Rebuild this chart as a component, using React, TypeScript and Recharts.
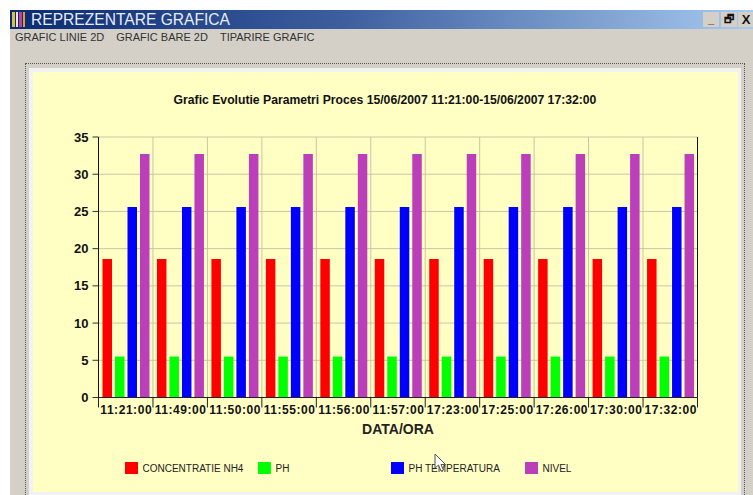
import React from "react";
import { BarChart, Bar, XAxis, YAxis, CartesianGrid, Legend } from "recharts";

const categories = ["11:21:00","11:49:00","11:50:00","11:55:00","11:56:00","11:57:00","17:23:00","17:25:00","17:26:00","17:30:00","17:32:00"];
const concentratieNH4 = [18.6,18.6,18.6,18.6,18.6,18.6,18.6,18.6,18.6,18.6,18.6];
const ph = [5.5,5.5,5.5,5.5,5.5,5.5,5.5,5.5,5.5,5.5,5.5];
const phTemperatura = [25.6,25.6,25.6,25.6,25.6,25.6,25.6,25.6,25.6,25.6,25.6];
const nivel = [32.7,32.7,32.7,32.7,32.7,32.7,32.7,32.7,32.7,32.7,32.7];
const yTicks = [0,5,10,15,20,25,30,35];
const menuItems = ["GRAFIC LINIE 2D","GRAFIC BARE 2D","TIPARIRE GRAFIC"];

const rows = categories.map((time, i) => ({
  time,
  nh4: concentratieNH4[i],
  ph: ph[i],
  temp: phTemperatura[i],
  nivel: nivel[i],
}));

const W = 753, H = 495;
const PLOT_LEFT = 98.5, PLOT_RIGHT = 697.5, PLOT_TOP = 137, PLOT_BOTTOM = 397.5;
const LEGEND_H = 14;
const STEP = (PLOT_RIGHT - PLOT_LEFT) / categories.length;
const font = "'Liberation Sans', Arial, sans-serif";

const XTick = (props: any) => {
  const { x, payload, index } = props;
  const left = x - STEP / 2;
  return (
    <g>
      <line x1={left} x2={left} y1={PLOT_BOTTOM} y2={PLOT_BOTTOM + 10} stroke="#222" />
      {index === categories.length - 1 && (
        <line x1={left + STEP} x2={left + STEP} y1={PLOT_BOTTOM} y2={PLOT_BOTTOM + 10} stroke="#222" />
      )}
      <text x={x + 0.5} y={PLOT_BOTTOM + 16.5} textAnchor="middle" fontFamily={font} fontWeight="bold" fontSize={12} letterSpacing={0.55} fill="#111">
        {payload.value}
      </text>
    </g>
  );
};

const legendX = [125, 258, 391, 525];
const LegendContent = ({ payload }: any) => (
  <div style={{ position: "relative", height: LEGEND_H, width: W }}>
    {(payload || []).map((p: any, i: number) => (
      <div key={p.value} style={{ position: "absolute", left: legendX[i], top: 0, display: "flex", alignItems: "center", height: LEGEND_H, whiteSpace: "nowrap" }}>
        <span style={{ width: 12.5, height: 12.5, background: p.color, display: "inline-block", marginRight: 5 }} />
        <span style={{ fontFamily: font, fontSize: 10, color: "#222" }}>{p.value}</span>
      </div>
    ))}
  </div>
);

export default function App() {
  return (
    <div style={{ position: "fixed", left: 0, top: 0, width: W, height: H, background: "#fff", overflow: "hidden", fontFamily: font }}>
      {/* window */}
      <div style={{ position: "absolute", left: 10, top: 29, right: 0, bottom: 0, background: "#d4d0c8" }} />
      <div style={{ position: "absolute", left: 10, top: 10, right: 0, height: 19, background: "linear-gradient(90deg,#0a2a72 0%,#3d5f9f 45%,#a6caf0 100%)" }} />
      <div style={{ position: "absolute", left: 12, top: 12, width: 16, height: 15, display: "flex", gap: 1, alignItems: "stretch" }}>
        {["#d8c040","#e8e8e8","#c040a0","#e0a030"].map((c) => <span key={c} style={{ width: 2.5, background: c }} />)}
      </div>
      <div style={{ position: "absolute", left: 31, top: 10, height: 19, lineHeight: "20px", color: "#e8ecf4", fontSize: 15.6, whiteSpace: "nowrap" }}>REPREZENTARE GRAFICA</div>
      {["_", "🗗", "X"].map((s, i) => (
        <div key={i} style={{ position: "absolute", left: 703 + i * 17.5, top: 12, width: 16, height: 15, background: "#d4d0c8", textAlign: "center", fontSize: i === 2 ? 13 : 11, fontWeight: "bold", lineHeight: "15px", color: "#111" }}>
          {i === 1 ? <span style={{ fontFamily: "'DejaVu Sans'" }}>{s}</span> : s}
        </div>
      ))}
      <div style={{ position: "absolute", left: 15, top: 31, height: 14, color: "#333", fontSize: 11, whiteSpace: "nowrap" }}>
        {menuItems.map((m, i) => <span key={m} style={{ marginRight: i < 2 ? 12 : 0 }}>{m}</span>)}
      </div>
      {/* panel */}
      <div style={{ position: "absolute", left: 25, top: 63, width: 720, height: 440, border: "1px dotted #555", boxSizing: "border-box" }} />
      <div style={{ position: "absolute", left: 29, top: 68, width: 712, height: 430, background: "#f2f2f2" }} />
      <div style={{ position: "absolute", left: 33, top: 72, width: 705, height: 420, background: "#ffffc4" }} />
      {/* chart */}
      <div style={{ position: "absolute", left: 0, top: 0 }}>
        <BarChart
          width={W}
          height={H}
          data={rows}
          barSize={9.5}
          barGap={3}
          barCategoryGap={3.7}
          margin={{ top: PLOT_TOP, left: PLOT_LEFT - 50, right: W - PLOT_RIGHT - 50, bottom: H - PLOT_BOTTOM - 30 - LEGEND_H }}
          style={{ background: "transparent" }}
        >
          <text x={385} y={104} textAnchor="middle" fontFamily={font} fontWeight="bold" fontSize={12.2} fill="#111">
            Grafic Evolutie Parametri Proces 15/06/2007 11:21:00-15/06/2007 17:32:00
          </text>
          <CartesianGrid
            yAxisId="left"
            stroke="#c9c5a8"
            verticalCoordinatesGenerator={() => categories.map((_, i) => PLOT_LEFT + i * STEP)}
          />
          <XAxis
            dataKey="time"
            interval={0}
            height={30}
            tick={XTick}
            tickLine={false}
            axisLine={{ stroke: "#222" }}
            label={{ value: "DATA/ORA", position: "insideBottom", offset: -6, fontFamily: font, fontWeight: "bold", fontSize: 14, fill: "#222" }}
          />
          <YAxis yAxisId="left" width={50} domain={[0, 35]} ticks={yTicks} interval={0} tickSize={6} tickMargin={4} axisLine={{ stroke: "#111" }} tickLine={{ stroke: "#333" }}
            tick={{ fontFamily: font, fontWeight: "bold", fontSize: 13, fill: "#111" }} />
          <YAxis yAxisId="right" orientation="right" width={50} domain={[0, 35]} ticks={yTicks} interval={0} tickSize={6} tickMargin={4} axisLine={{ stroke: "#111" }} tickLine={{ stroke: "#333" }}
            tick={{ fontFamily: font, fontWeight: "bold", fontSize: 13, fill: "#111" }} />
          <Bar yAxisId="left" dataKey="nh4" name="CONCENTRATIE NH4" fill="#ff0000" isAnimationActive={false} />
          <Bar yAxisId="left" dataKey="ph" name="PH" fill="#00ff00" isAnimationActive={false} />
          <Bar yAxisId="left" dataKey="temp" name="PH TEMPERATURA" fill="#0000ff" isAnimationActive={false} />
          <Bar yAxisId="left" dataKey="nivel" name="NIVEL" fill="#bb3fbb" isAnimationActive={false} />
          <Legend content={LegendContent} itemSorter={null} wrapperStyle={{ position: "absolute", left: 0, top: 461, width: W, height: LEGEND_H }} />
        </BarChart>
      </div>
      {/* mouse pointer captured in the screenshot */}
      <svg style={{ position: "absolute", left: 433, top: 453 }} width={16} height={22}>
        <path d="M2 1 L2 15 L5.5 12 L8 18 L10.5 17 L8 11.5 L12.5 11.5 Z" fill="#fff" stroke="#555" strokeWidth={1} />
      </svg>
    </div>
  );
}
